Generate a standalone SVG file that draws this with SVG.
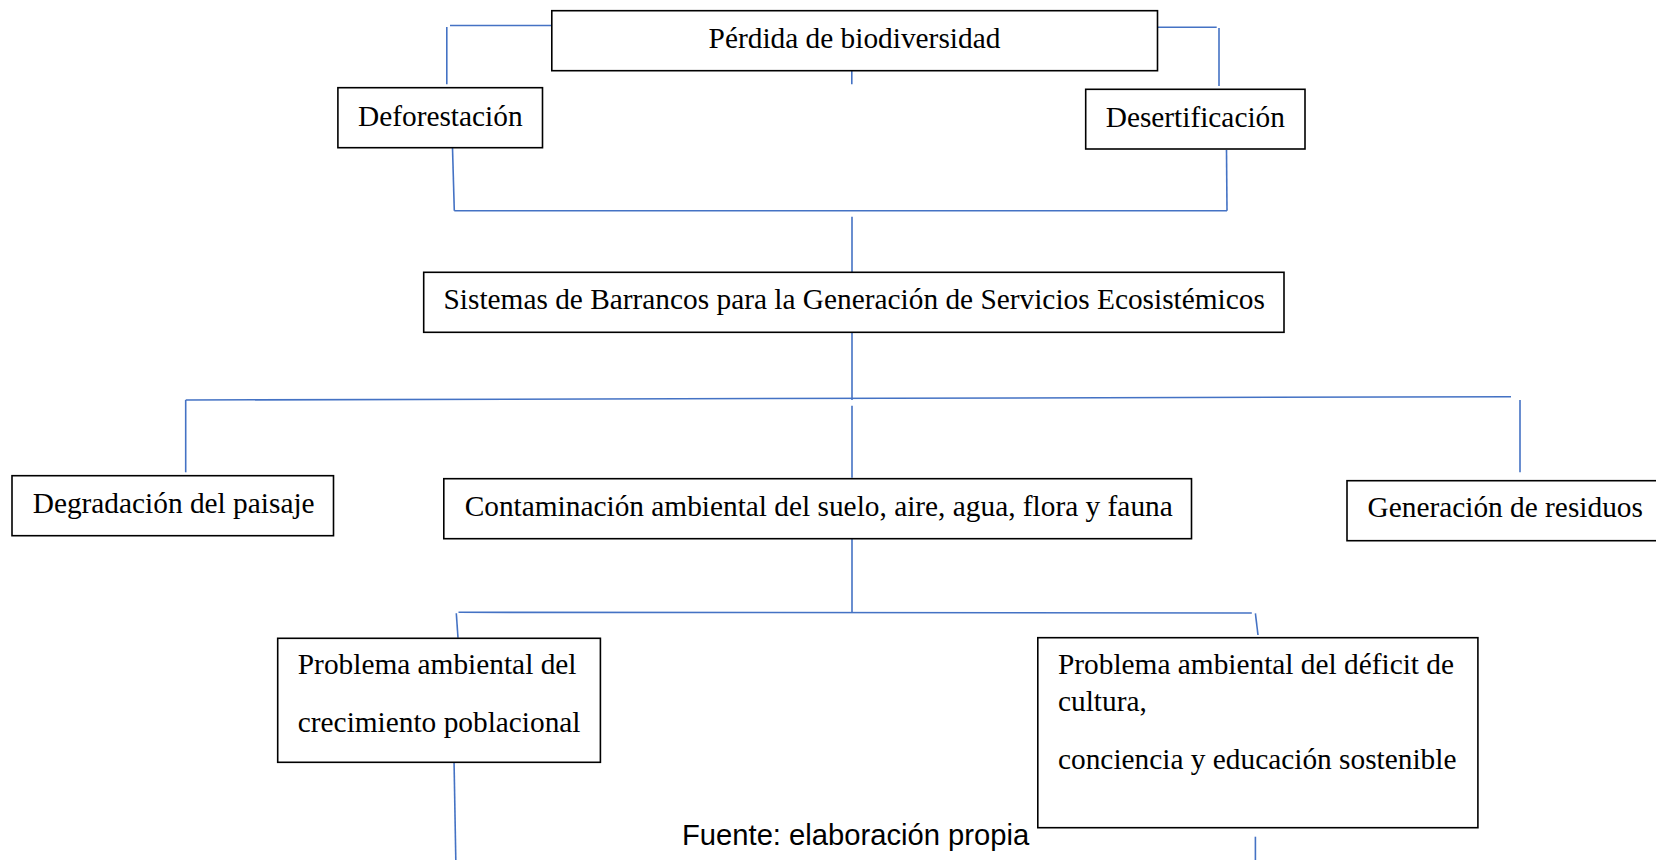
<svg xmlns="http://www.w3.org/2000/svg" width="1656" height="860" viewBox="0 0 1656 860">
<style>
.box{fill:#fff;stroke:#000;stroke-width:1.6}
.t{font-family:"Liberation Serif","Times New Roman",serif;font-size:29.35px;fill:#000}
.s{font-family:"Liberation Sans",Arial,sans-serif;font-size:29.2px;fill:#000}
.c{fill:none;stroke:#4472C4;stroke-width:1.6}
</style>
<rect x="0" y="0" width="1656" height="860" fill="#fff"/>
<g id="connectors">
<path class="c" d="M450 25.5 H551.8"/>
<path class="c" d="M446.8 27 V84.3"/>
<path class="c" d="M1158 27.3 H1216.7"/>
<path class="c" d="M1219 28 V86"/>
<path class="c" d="M851.8 70.7 V84.3"/>
<path class="c" d="M452.5 147.7 L454.3 210.7"/>
<path class="c" d="M1226.5 150 L1227 210.7"/>
<path class="c" d="M454.3 210.7 H1227"/>
<path class="c" d="M852 216.7 V272.3"/>
<path class="c" d="M852 328.3 V400"/>
<path class="c" d="M185.7 400 L1511 396.7"/>
<path class="c" d="M185.7 400 V472.3"/>
<path class="c" d="M852 405.7 V477.7"/>
<path class="c" d="M1520 400 V472.3"/>
<path class="c" d="M852 538.7 V612.3"/>
<path class="c" d="M458.5 612.3 L1251.8 613"/>
<path class="c" d="M456.3 613.3 L458 637.7"/>
<path class="c" d="M1255.4 613.3 L1258 635"/>
<path class="c" d="M454 759.3 L455.8 860"/>
<path class="c" d="M1255.4 836.7 V860"/>
</g>
<g id="n-perdida"><rect class="box" x="551.8" y="10.7" width="605.7" height="60"/><text class="t" x="708.6" y="48.3">Pérdida de biodiversidad</text></g>
<g id="n-deforestacion"><rect class="box" x="337.9" y="87.7" width="204.6" height="60"/><text class="t" x="358" y="125.5">Deforestación</text></g>
<g id="n-desertificacion"><rect class="box" x="1085.7" y="89.3" width="219.3" height="59.7"/><text class="t" x="1105.7" y="126.5">Desertificación</text></g>
<g id="n-sistemas"><rect class="box" x="423.7" y="272.3" width="860.3" height="60"/><text class="t" x="443.5" y="309.3">Sistemas de Barrancos para la Generación de Servicios Ecosistémicos</text></g>
<g id="n-degradacion"><rect class="box" x="12" y="475.7" width="321.5" height="60"/><text class="t" x="32.7" y="513.3">Degradación del paisaje</text></g>
<g id="n-contaminacion"><rect class="box" x="443.8" y="478.7" width="747.7" height="60"/><text class="t" x="464.7" y="516">Contaminación ambiental del suelo, aire, agua, flora y fauna</text></g>
<g id="n-residuos"><rect class="box" x="1347" y="480.7" width="330" height="60"/><text class="t" x="1367.5" y="516.7">Generación de residuos</text></g>
<g id="n-crecimiento"><rect class="box" x="277.7" y="638.3" width="322.7" height="124"/><text class="t" x="297.8" y="674.3">Problema ambiental del</text><text class="t" x="297.8" y="732.3">crecimiento poblacional</text></g>
<g id="n-deficit"><rect class="box" x="1037.8" y="637.7" width="440.1" height="190"/><text class="t" x="1058" y="674.3">Problema ambiental del déficit de</text><text class="t" x="1058" y="710.7">cultura,</text><text class="t" x="1058" y="769.3">conciencia y educación sostenible</text></g>
<text id="fuente" class="s" x="682" y="845">Fuente: elaboración propia</text>
</svg>
